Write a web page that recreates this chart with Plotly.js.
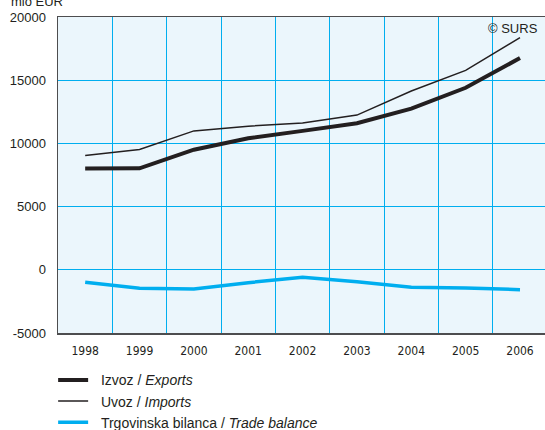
<!DOCTYPE html>
<html>
<head>
<meta charset="utf-8">
<script src="https://cdn.plot.ly/plotly-3.0.1.min.js"></script>
<style>html,body{margin:0;padding:0;background:#fff;overflow:hidden}</style>
</head>
<body>
<div id="chart" style="width:545px;height:430px"></div>
<script>
var years = ["1998","1999","2000","2001","2002","2003","2004","2005","2006"];
var exportsVals = [8020, 8030, 9500, 10400, 10990, 11600, 12750, 14400, 16750];
var importsVals = [9050, 9520, 10990, 11360, 11620, 12240, 14150, 15780, 18360];
var balanceVals = [-990, -1460, -1520, -1020, -590, -950, -1380, -1440, -1570];
var seriesNames = ["\u00a0\u00a0Izvoz / <i>Exports</i>", "\u00a0\u00a0Uvoz / <i>Imports</i>", "\u00a0\u00a0Trgovinska bilanca / <i>Trade balance</i>"];
var yTicks = [-5000, 0, 5000, 10000, 15000, 20000];

var cyan = "#00AEEF";
var traces = [
  {x: years, y: exportsVals, name: seriesNames[0], type: "scatter", mode: "lines",
   line: {color: "#231F20", width: 4}},
  {x: years, y: importsVals, name: seriesNames[1], type: "scatter", mode: "lines",
   line: {color: "#231F20", width: 1.5}},
  {x: years, y: balanceVals, name: seriesNames[2], type: "scatter", mode: "lines",
   line: {color: cyan, width: 3.5}}
];

var layout = {
  width: 545, height: 430,
  margin: {l: 58, r: 0, t: 17, b: 97, autoexpand: false},
  paper_bgcolor: "#ffffff",
  plot_bgcolor: "#EBF6FC",
  font: {family: "Liberation Sans, Arial, sans-serif", size: 13, color: "#231F20"},
  showlegend: true,
  legend: {x: -0.01, xanchor: "left", y: -0.099, yanchor: "top", orientation: "v",
           font: {size: 14, color: "#231F20"}, bgcolor: "rgba(0,0,0,0)", tracegroupgap: 0},
  xaxis: {
    type: "category", range: [-0.5, 8.46], tickson: "boundaries",
    showgrid: true, gridcolor: cyan, gridwidth: 1,
    showline: true, linecolor: "#4D4D4F", linewidth: 1.5, mirror: true,
    ticks: "", ticklabelstandoff: 6,
    tickfont: {family: "Liberation Sans Narrow, DejaVu Sans Condensed, sans-serif", size: 12},
    fixedrange: true
  },
  yaxis: {
    range: [-5000, 20000], tickvals: yTicks, ticktext: yTicks.map(String),
    showgrid: true, gridcolor: cyan, gridwidth: 1, zeroline: false,
    showline: true, linecolor: "#4D4D4F", linewidth: 1.5,
    ticks: "outside", ticklen: 8, tickcolor: "rgba(0,0,0,0)",
    tickfont: {size: 13},
    fixedrange: true
  },
  annotations: [
    {text: "© SURS", xref: "paper", yref: "paper", x: 0.99, y: 0.995, xanchor: "right", yanchor: "top",
     showarrow: false, font: {size: 13, color: "#231F20"}},
    {text: "mio EUR", xref: "paper", yref: "paper", x: -0.1, y: 1, xanchor: "left", yanchor: "bottom",
     yshift: 6, showarrow: false, font: {size: 13, color: "#231F20"}}
  ]
};

Plotly.newPlot("chart", traces, layout, {displayModeBar: false, staticPlot: true});
</script>
</body>
</html>
